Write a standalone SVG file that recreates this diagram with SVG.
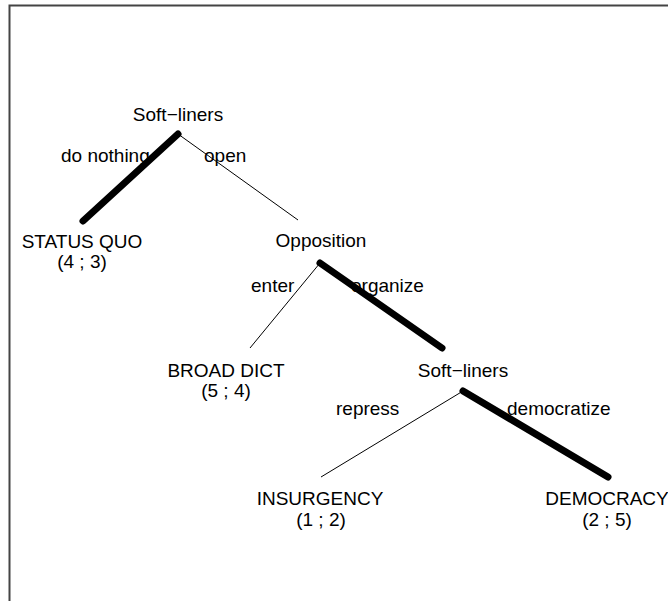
<svg xmlns="http://www.w3.org/2000/svg" width="668" height="601" viewBox="0 0 668 601">
<style>
text{font-family:"Liberation Sans",Arial,sans-serif;font-size:19px;fill:#000}
.c{text-anchor:middle}
.thin{stroke:#000;stroke-width:1;fill:none}
.thick{stroke:#000;stroke-width:7;stroke-linecap:round;fill:none}
</style>
<rect width="668" height="601" fill="#fff"/>
<path d="M9.5 601V5.5H668" stroke="#444" stroke-width="2" fill="none"/>
<g id="connectors">
<line class="thick" x1="178" y1="134" x2="83" y2="221"/>
<line class="thin" x1="178" y1="134" x2="298" y2="220"/>
<line class="thin" x1="320" y1="263" x2="250" y2="348"/>
<line class="thick" x1="320" y1="263" x2="442" y2="348"/>
<line class="thin" x1="463" y1="391" x2="321" y2="477"/>
<line class="thick" x1="463" y1="391" x2="608" y2="477"/>
<text x="61" y="162">do nothing</text>
<text x="204" y="162">open</text>
<text x="251" y="292">enter</text>
<text x="351" y="292">organize</text>
<text x="336" y="415">repress</text>
<text x="507" y="415">democratize</text>
</g>
<g id="n1"><text class="c" x="178" y="121">Soft−liners</text></g>
<g id="n2"><text class="c" x="82" y="248">STATUS QUO</text><text class="c" x="82" y="268">(4 ; 3)</text></g>
<g id="n3"><text class="c" x="321" y="247">Opposition</text></g>
<g id="n4"><text class="c" x="226" y="377">BROAD DICT</text><text class="c" x="226" y="397">(5 ; 4)</text></g>
<g id="n5"><text class="c" x="463" y="377">Soft−liners</text></g>
<g id="n6"><text class="c" x="320" y="505">INSURGENCY</text><text class="c" x="321" y="526">(1 ; 2)</text></g>
<g id="n7"><text class="c" x="607" y="505">DEMOCRACY</text><text class="c" x="607" y="526">(2 ; 5)</text></g>
</svg>
